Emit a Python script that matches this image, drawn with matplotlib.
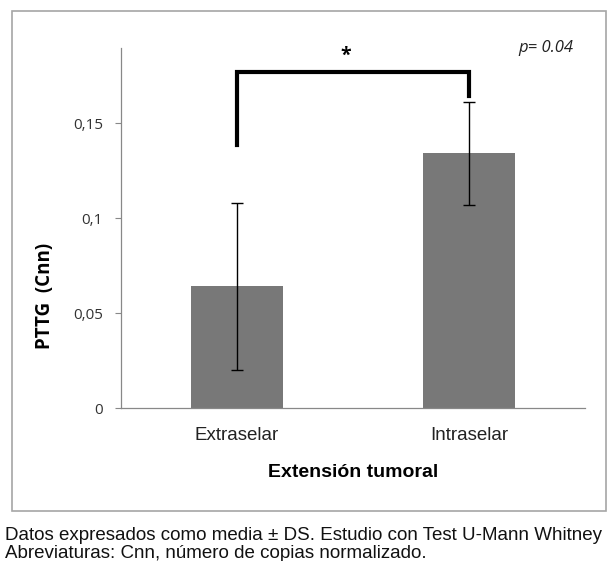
import matplotlib.pyplot as plt
from matplotlib.patches import Rectangle

categories = ['Extraselar', 'Intraselar']
means = [0.064, 0.134]
sds = [0.044, 0.027]
y_ticks = [0, 0.05, 0.1, 0.15]
y_tick_labels = ['0', '0,05', '0,1', '0,15']
p_text = 'p= 0.04'
bracket_left, bracket_top, bracket_right = 0.1385, 0.1768, 0.164

fig = plt.figure(figsize=(6.16, 5.61), dpi=100)

# outer frame around the chart area
fig.patches.append(Rectangle((12 / 616, 1 - 511 / 561), 594 / 616, 500 / 561,
                             transform=fig.transFigure, fill=False,
                             edgecolor='#a6a6a6', linewidth=1.2))

ax = fig.add_axes([121 / 616, 153 / 561, 464 / 616, 360 / 561])
x = range(len(categories))
ax.bar(x, means, width=0.4, color='#787878', zorder=2)
ax.errorbar(x, means, yerr=sds, fmt='none', ecolor='black', elinewidth=1,
            capsize=4, capthick=1, zorder=3)

ax.set_xlim(-0.5, 1.5)
ax.set_ylim(0, 0.1895)
ax.set_yticks(y_ticks)
ax.set_yticklabels(y_tick_labels, fontfamily='Open Sans', fontsize=11, color='#333333')
ax.set_xticks(list(x))
ax.set_xticklabels(categories, fontfamily='Liberation Sans', fontsize=13.5, color='#222222')
ax.tick_params(axis='x', length=0, pad=14)
ax.tick_params(axis='y', length=4, width=0.8, color='#888888', pad=9)

for side in ['top', 'right']:
    ax.spines[side].set_visible(False)
for side in ['left', 'bottom']:
    ax.spines[side].set_color('#888888')
    ax.spines[side].set_linewidth(0.9)

ax.set_xlabel('Extensión tumoral', fontfamily='Liberation Sans', fontsize=14,
              fontweight='bold', labelpad=14)
ax.set_ylabel('PTTG  (Cnn)', fontfamily='Open Sans', fontsize=13.5,
              fontweight='bold')
ax.yaxis.set_label_coords(-0.142, 0.31)

# significance bracket
ax.plot([0, 0, 1, 1], [bracket_left, bracket_top, bracket_top, bracket_right],
        color='black', linewidth=3, solid_joinstyle='miter', clip_on=False, zorder=4)
ax.text(0.47, 0.1855, '*', ha='center', va='center', fontsize=14,
        fontfamily='Open Sans', fontweight='bold')
ax.text(1.45, 0.1895, p_text, ha='right', va='center', fontsize=12,
        fontfamily='Open Sans', fontstyle='italic', color='#222222')

fig.text(5 / 616, 1 - 535 / 561,
         'Datos expresados como media ± DS. Estudio con Test U-Mann Whitney',
         fontfamily='Liberation Sans', fontsize=13.5, va='center', color='#111111')
fig.text(5 / 616, 1 - 553 / 561,
         'Abreviaturas: Cnn, número de copias normalizado.',
         fontfamily='Liberation Sans', fontsize=13.5, va='center', color='#111111')

fig.savefig('out.png', dpi=100)
